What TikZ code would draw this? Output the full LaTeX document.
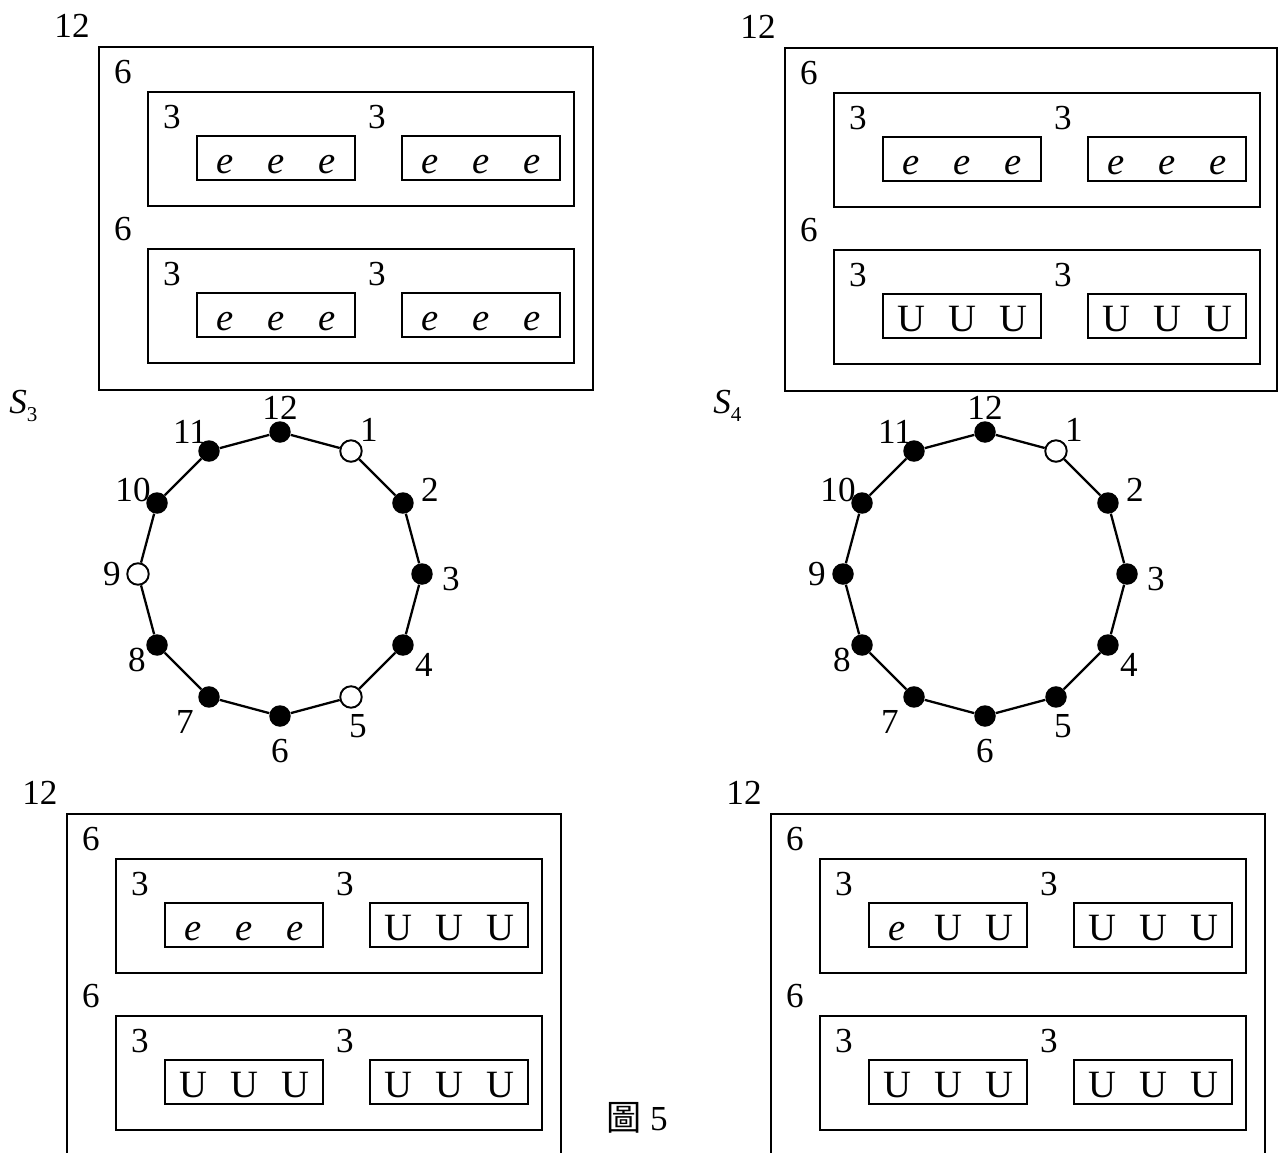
\documentclass[tikz,border=0pt]{standalone}
\usepackage{fontspec}
\setmainfont{Liberation Serif}
\newfontfamily\cjk{Noto Sans CJK TC}
\usetikzlibrary{calc}

\tikzset{
  frame/.style={line width=1.5pt},
  lab/.style={inner sep=0pt, font=\fontsize{20}{24}\selectfont},
  cell/.style={inner sep=0pt, anchor=base, font=\fontsize{22}{26}\selectfont},
  vdot/.style={circle, fill=black, inner sep=0pt, minimum size=0.43cm},
  odot/.style={vdot, fill=white, draw=black, line width=1.1pt},
  edge/.style={line width=1.3pt},
}
\newcommand{\ee}{\textit{e}}

\begin{document}
\begin{tikzpicture}[x=0.02cm, y=-0.02cm]
  \useasboundingbox (0,0) rectangle (1279,1153);

  % Outer frames (the two lower ones run off the page)
  \draw[frame] (99,47) rectangle (593,390);
  \draw[frame] (785,48) rectangle (1277,391);
  \draw[frame] (67,1153) |- (561,814) -- (561,1153);
  \draw[frame] (771,1153) |- (1265,814) -- (1265,1153);

  % Nested boxes: 12 -> 6 -> 3, with the cell contents
  \foreach \ox/\oy/\pan/\cells in {
      99/47/tl/{\ee,\ee,\ee,\ee,\ee,\ee,\ee,\ee,\ee,\ee,\ee,\ee},
      785/48/tr/{\ee,\ee,\ee,\ee,\ee,\ee,U,U,U,U,U,U},
      67/814/bl/{\ee,\ee,\ee,U,U,U,U,U,U,U,U,U},
      771/814/br/{\ee,U,U,U,U,U,U,U,U,U,U,U}}{
    \node[lab] (\pan-top) at (\ox-27,\oy-21) {12};
    \foreach \r in {0,1}{
      \node[lab] (\pan-six\r) at (\ox+24,\oy+25+157*\r) {6};
      \draw[frame] (\ox+49,\oy+45+157*\r) rectangle +(426,114);
      \foreach \c in {0,1}{
        \node[lab] (\pan-three\r\c) at (\ox+73+205*\c,\oy+70+157*\r) {3};
        \draw[frame] (\ox+98+205*\c,\oy+89+157*\r) rectangle +(158,44);
      }
    }
    \foreach \s [count=\i from 0] in \cells{
      \pgfmathtruncatemacro\bx{\i/3}
      \pgfmathtruncatemacro\sl{mod(\i,3)}
      \pgfmathtruncatemacro\rw{\bx/2}
      \pgfmathtruncatemacro\cl{mod(\bx,2)}
      \node[cell] (\pan-c\i) at (\ox+126+205*\cl+51*\sl,\oy+126+157*\rw) {\s};
    }
  }

  % The two 12-gons S_3 and S_4
  \node[lab, anchor=base west] (s3name) at (9,413)
    {\textit{S}\raisebox{-5pt}{\fontsize{12}{12}\selectfont 3}};
  \node[lab, anchor=base west] (s4name) at (713,413)
    {\textit{S}\raisebox{-5pt}{\fontsize{12}{12}\selectfont 4}};

  \foreach \k/\sa/\sb/\dx/\dy in {1/odot/odot/18/-21, 2/vdot/vdot/27/-13,
      3/vdot/vdot/29/5, 4/vdot/vdot/21/20, 5/odot/vdot/7/29,
      6/vdot/vdot/0/35, 7/vdot/vdot/-24/25, 8/vdot/vdot/-20/15,
      9/odot/vdot/-26/0, 10/vdot/vdot/-24/-13, 11/vdot/vdot/-19/-19,
      12/vdot/vdot/0/-24}{
    \node[\sa] (s3-\k) at ({280+142*cos(30*\k-90)},{574+142*sin(30*\k-90)}) {};
    \node[\sb] (s4-\k) at ({985+142*cos(30*\k-90)},{574+142*sin(30*\k-90)}) {};
    \node[lab] (s3-l\k) at ($(s3-\k)+(\dx,\dy)$) {\k};
    \node[lab] (s4-l\k) at ($(s4-\k)+(\dx,\dy)$) {\k};
  }
  \foreach \k [remember=\k as \p (initially 12)] in {1,...,12}{
    \draw[edge] (s3-\p) -- (s3-\k);
    \draw[edge] (s4-\p) -- (s4-\k);
  }

  % Caption
  \node[lab] (caption) at (637,1118) {{\cjk 圖} 5};
\end{tikzpicture}
\end{document}
